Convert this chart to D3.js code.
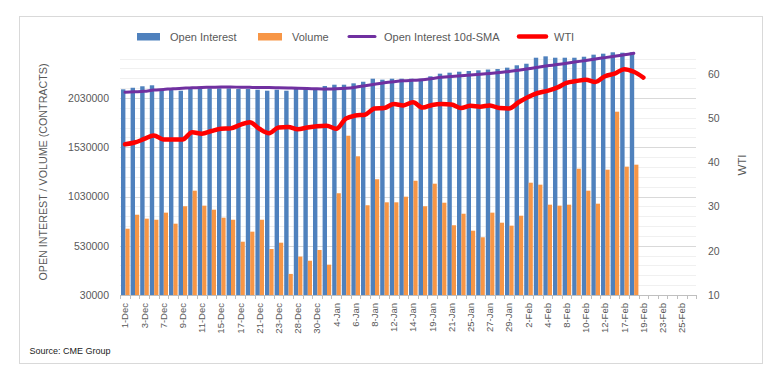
<!DOCTYPE html>
<html><head><meta charset="utf-8">
<script src="https://cdn.jsdelivr.net/npm/d3@7"></script>
<style>
body{margin:0;background:#fff}
svg{display:block}
text{font-family:"Liberation Sans",Arial,sans-serif}
</style>
</head><body>
<svg id="c" width="782" height="380"></svg>
<script>
const dates = ["1-Dec","2-Dec","3-Dec","4-Dec","7-Dec","8-Dec","9-Dec","10-Dec","11-Dec","14-Dec","15-Dec","16-Dec","17-Dec","18-Dec","21-Dec","22-Dec","23-Dec","24-Dec","28-Dec","29-Dec","30-Dec","31-Dec","4-Jan","5-Jan","6-Jan","7-Jan","8-Jan","11-Jan","12-Jan","13-Jan","14-Jan","15-Jan","19-Jan","20-Jan","21-Jan","22-Jan","25-Jan","26-Jan","27-Jan","28-Jan","29-Jan","1-Feb","2-Feb","3-Feb","4-Feb","5-Feb","8-Feb","9-Feb","10-Feb","11-Feb","12-Feb","16-Feb","17-Feb","18-Feb","19-Feb","22-Feb","23-Feb","24-Feb","25-Feb","26-Feb"];

const openInterest = [2118000,2134000,2149000,2159000,2111000,2111000,2104000,2128000,2128000,2128000,
2128000,2128000,2121000,2121000,2114000,2104000,2114000,2104000,2128000,2125000,
2118000,2152000,2165000,2165000,2179000,2195000,2226000,2216000,2226000,2226000,
2226000,2226000,2250000,2277000,2287000,2297000,2304000,2311000,2319000,2324000,
2338000,2362000,2378000,2439000,2453000,2439000,2439000,2439000,2449000,2470000,
2480000,2494000,2490000,2494000];

const volume = [703000,845000,805000,794000,866000,754000,931000,1089000,937000,896000,
815000,794000,571000,673000,794000,497000,561000,244000,420000,378000,
487000,338000,1063000,1647000,1438000,941000,1205000,971000,971000,1028000,
1190000,931000,1160000,967000,738000,855000,683000,616000,866000,764000,
734000,835000,1170000,1150000,947000,937000,947000,1312000,1089000,957000,
1302000,1891000,1333000,1353000];

const oiSma = [2088000,2093000,2098000,2111000,2117000,2124000,2129000,2134000,2137000,2139000,
2142000,2142000,2139000,2138000,2137000,2136000,2134000,2132000,2130000,2127000,
2123000,2121000,2123000,2128000,2139000,2155000,2170000,2185000,2196000,2205000,
2210000,2215000,2228000,2240000,2248000,2256000,2263000,2270000,2278000,2288000,
2300000,2312000,2326000,2342000,2357000,2369000,2383000,2397000,2411000,2426000,
2440000,2454000,2468000,2484000];

const wti = [44.1,44.5,45.3,46.1,45.2,45.2,45.2,46.8,46.5,47.1,
47.6,47.7,48.5,49.1,47.6,46.6,47.9,48.0,47.5,47.9,
48.2,48.3,47.6,49.9,50.6,50.8,52.2,52.3,53.2,52.9,
53.6,52.4,53.0,53.2,53.1,52.3,52.8,52.6,52.9,52.3,
52.2,53.6,54.8,55.7,56.2,56.9,58.0,58.4,58.7,58.2,
59.5,60.1,61.1,60.5,59.2];

const leftTicks = [30000,530000,1030000,1530000,2030000];
const rightTicks = [10,20,30,40,50,60];
const legendLabels = ["Open Interest","Volume","Open Interest 10d-SMA","WTI"];

const C = {oi:"#4f81bd", vol:"#f79646", sma:"#7030a0", wti:"#ff0000", txt:"#595959"};
const svg = d3.select("#c");

// chart border
svg.append("rect").attr("x",19.5).attr("y",16.5).attr("width",743).attr("height",347)
  .attr("fill","#fff").attr("stroke","#d9d9d9").attr("stroke-width",1);

const x = d3.scaleBand().domain(dates).range([120.2,696.2]).padding(0);
const bw = x.bandwidth();
const yL = d3.scaleLinear().domain([30000,2030000]).range([295,98]);
const yR = d3.scaleLinear().domain([10,60]).range([295,74]);

// gridlines
const grid = svg.append("g");
for (let v = 130000; v <= 2430000; v += 100000) {
  const major = leftTicks.includes(v);
  grid.append("line").attr("x1",120).attr("x2",696)
    .attr("y1",Math.round(yL(v))+0.5).attr("y2",Math.round(yL(v))+0.5)
    .attr("stroke", major ? "#d9d9d9" : "#f0f0f0").attr("stroke-width",1);
}

// bars
svg.append("g").selectAll("rect").data(openInterest).join("rect")
  .attr("x",(d,i)=>x(dates[i])+0.8).attr("width",4.4)
  .attr("y",d=>yL(d)).attr("height",d=>295-yL(d)).attr("fill",C.oi);
svg.append("g").selectAll("rect").data(volume).join("rect")
  .attr("x",(d,i)=>x(dates[i])+5.2).attr("width",4.2)
  .attr("y",d=>yL(d)).attr("height",d=>295-yL(d)).attr("fill",C.vol);

// x axis line and category ticks
svg.append("line").attr("x1",120).attr("x2",696.5).attr("y1",295.5).attr("y2",295.5)
  .attr("stroke","#bfbfbf");
svg.append("g").selectAll("line").data(dates.concat(["end"])).join("line")
  .attr("x1",(d,i)=>Math.round(i<dates.length ? x(d) : x.range()[1])+0.5)
  .attr("x2",(d,i)=>Math.round(i<dates.length ? x(d) : x.range()[1])+0.5)
  .attr("y1",295).attr("y2",299).attr("stroke","#bfbfbf");

const xAxis = d3.axisBottom(x).tickValues(dates.filter((d,i)=>i%2===0)).tickSize(0).tickPadding(0);
const gx = svg.append("g").attr("transform","translate(0,295)").call(xAxis);
gx.select(".domain").remove();
gx.selectAll("text").attr("fill",C.txt).style("font-size","9.5px")
  .attr("text-anchor","end").attr("dy","0.35em").attr("y",0)
  .attr("transform","translate(0,8) rotate(-90)");

// left axis
const gl = svg.append("g").attr("transform","translate(120,0)")
  .call(d3.axisLeft(yL).tickValues(leftTicks).tickSize(0).tickPadding(11).tickFormat(d3.format("d")));
gl.select(".domain").remove();
gl.selectAll("text").attr("fill",C.txt).style("font-size","10.5px");

// right axis
const gr = svg.append("g").attr("transform","translate(696,0)")
  .call(d3.axisRight(yR).tickValues(rightTicks).tickSize(0).tickPadding(12));
gr.select(".domain").remove();
gr.selectAll("text").attr("fill",C.txt).style("font-size","10.5px");

// axis titles
svg.append("text").attr("transform","translate(47,172) rotate(-90)")
  .attr("text-anchor","middle").attr("fill",C.txt).style("font-size","11px")
  .attr("textLength",217).attr("lengthAdjust","spacingAndGlyphs")
  .text("OPEN INTEREST / VOLUME (CONTRACTS)");
svg.append("text").attr("transform","translate(745.5,165) rotate(-90)")
  .attr("text-anchor","middle").attr("fill",C.txt).style("font-size","11.5px").text("WTI");

// lines
const cx = i => x(dates[i]) + bw/2;
svg.append("path").datum(oiSma)
  .attr("d", d3.line().x((d,i)=>cx(i)).y(d=>yL(d)).curve(d3.curveMonotoneX))
  .attr("fill","none").attr("stroke",C.sma).attr("stroke-width",3).attr("stroke-linecap","round");
svg.append("path").datum(wti)
  .attr("d", d3.line().x((d,i)=>cx(i)).y(d=>yR(d)).curve(d3.curveMonotoneX))
  .attr("fill","none").attr("stroke",C.wti).attr("stroke-width",4.5)
  .attr("stroke-linejoin","round").attr("stroke-linecap","round");

// legend
const lg = svg.append("g");
const legItems = [
  {type:"rect", color:C.oi, x0:137, x1:160, tx:170},
  {type:"rect", color:C.vol, x0:258, x1:282, tx:292},
  {type:"line", color:C.sma, x0:349, x1:375, tx:384, w:3},
  {type:"line", color:C.wti, x0:519, x1:546, tx:554, w:4.5}
];
legItems.forEach((it,i)=>{
  if (it.type==="rect") {
    lg.append("rect").attr("x",it.x0).attr("y",33).attr("width",it.x1-it.x0).attr("height",7.5).attr("fill",it.color);
  } else {
    lg.append("line").attr("x1",it.x0).attr("x2",it.x1).attr("y1",36.5).attr("y2",36.5)
      .attr("stroke",it.color).attr("stroke-width",it.w).attr("stroke-linecap","round");
  }
  lg.append("text").attr("x",it.tx).attr("y",40.5).attr("fill",C.txt).style("font-size","11px").text(legendLabels[i]);
});

// source
svg.append("text").attr("x",29.5).attr("y",353.5).attr("fill","#222").style("font-size","9px").text("Source: CME Group");
</script>
</body></html>
